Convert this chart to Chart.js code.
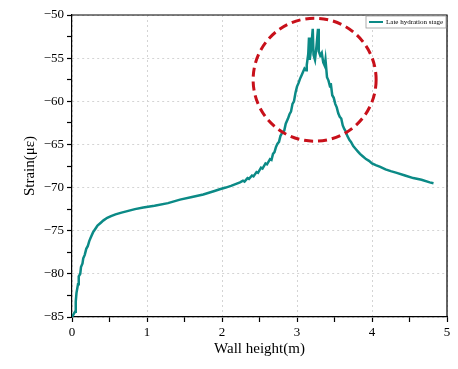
<!DOCTYPE html>
<html>
<head>
<meta charset="utf-8">
<script src="https://cdn.jsdelivr.net/npm/chart.js@4/dist/chart.umd.min.js"></script>
<style>
  html, body { margin: 0; padding: 0; background: #fff; }
  #wrap { width: 458px; height: 369px; }
</style>
</head>
<body>
<div id="wrap"><canvas id="myChart" width="458" height="369"></canvas></div>
<script>
// wall height (m)
const heights = [
  0.00, 0.02, 0.04, 0.05, 0.06, 0.08, 0.09, 0.11, 0.12, 0.14,
  0.15, 0.17, 0.19, 0.21, 0.23, 0.25, 0.28, 0.31, 0.34, 0.38,
  0.42, 0.47, 0.52, 0.58, 0.66, 0.75, 0.84, 0.95, 1.10, 1.28,
  1.44, 1.60, 1.75, 1.90, 1.97, 2.05, 2.12, 2.18, 2.24, 2.28,
  2.30, 2.34, 2.36, 2.40, 2.42, 2.46, 2.48, 2.52, 2.54, 2.58,
  2.60, 2.64, 2.66, 2.68, 2.70, 2.72, 2.74, 2.76, 2.78, 2.80,
  2.83, 2.85, 2.88, 2.90, 2.92, 2.94, 2.96, 2.98, 3.00, 3.02,
  3.04, 3.06, 3.08, 3.10, 3.12, 3.13, 3.15, 3.16, 3.17, 3.19,
  3.21, 3.22, 3.24, 3.26, 3.28, 3.29, 3.31, 3.33, 3.35, 3.37,
  3.38, 3.40, 3.42, 3.44, 3.45, 3.47, 3.49, 3.51, 3.53, 3.55,
  3.57, 3.59, 3.61, 3.63, 3.65, 3.67, 3.70, 3.72, 3.75, 3.78,
  3.81, 3.84, 3.88, 3.92, 3.96, 4.00, 4.05, 4.11, 4.18, 4.25,
  4.33, 4.44, 4.55, 4.66, 4.77, 4.82
];
// strain (microstrain), late hydration stage
const lateStrain = [
  -85.0, -84.7, -84.4, -83.2, -82.2, -81.2, -80.3, -80.0, -79.2, -78.8,
  -78.2, -77.8, -77.1, -76.8, -76.2, -75.8, -75.2, -74.8, -74.4, -74.1,
  -73.8, -73.5, -73.3, -73.1, -72.9, -72.7, -72.5, -72.3, -72.1, -71.8,
  -71.4, -71.1, -70.8, -70.4, -70.2, -70.0, -69.8, -69.6, -69.4, -69.2,
  -69.3, -68.9, -69.0, -68.6, -68.7, -68.2, -68.3, -67.7, -67.8, -67.2,
  -67.3, -66.7, -66.8, -66.1, -65.9, -65.3, -64.9, -64.7, -64.0, -63.7,
  -63.4, -62.6, -62.0, -61.5, -61.2, -60.3, -60.0, -59.0, -58.3, -57.9,
  -57.4, -57.0, -56.6, -56.2, -56.4, -55.8, -54.5, -52.6, -55.2, -53.8,
  -51.6, -54.6, -55.2, -53.6, -51.6, -54.2, -54.7, -54.4, -55.5, -55.9,
  -55.2, -57.2, -57.6, -58.3, -57.9, -59.3, -59.6, -60.3, -60.7, -61.4,
  -61.8, -62.0, -62.8, -63.2, -63.5, -64.0, -64.5, -64.7, -65.2, -65.5,
  -65.8, -66.1, -66.4, -66.7, -66.9, -67.2, -67.4, -67.6, -67.9, -68.1,
  -68.3, -68.6, -68.9, -69.1, -69.4, -69.5
];
const seriesLabel = "Late hydration stage";
const xTitle = "Wall height(m)";
const yTitle = "Strain(\u03bc\u03b5)";
// highlighted peak zone (data units)
const peakCenter = { x: 3.235, y: -57.5 };
const peakRadiusX = 0.82;

const serif = "'Liberation Serif', 'Times New Roman', serif";
const lineColor = "#0b8a86";

const points = heights.map((h, i) => ({ x: h, y: lateStrain[i] }));

// top + right frame lines, dashed circle, boxed legend
const extras = {
  id: "extras",
  afterDatasetsDraw(chart) {
    const { ctx, scales } = chart;
    const cx = scales.x.getPixelForValue(peakCenter.x);
    const cy = scales.y.getPixelForValue(peakCenter.y);
    const r = scales.x.getPixelForValue(peakCenter.x + peakRadiusX) - cx;
    ctx.save();
    ctx.strokeStyle = "#c8101a";
    ctx.lineWidth = 3;
    ctx.setLineDash([9, 5]);
    ctx.beginPath();
    ctx.arc(cx, cy, r, 0, Math.PI * 2);
    ctx.stroke();
    ctx.restore();
  },
  afterDraw(chart) {
    const { ctx, chartArea } = chart;
    ctx.save();
    ctx.strokeStyle = "#000";
    ctx.lineWidth = 1.2;
    ctx.beginPath();
    ctx.moveTo(chartArea.left, chartArea.top);
    ctx.lineTo(chartArea.right, chartArea.top);
    ctx.lineTo(chartArea.right, chartArea.bottom);
    ctx.stroke();

    // legend box
    const bx = chartArea.right - 81, by = chartArea.top + 1, bw = 80, bh = 12;
    ctx.fillStyle = "#fff";
    ctx.fillRect(bx, by, bw, bh);
    ctx.strokeStyle = "#999";
    ctx.lineWidth = 0.8;
    ctx.strokeRect(bx, by, bw, bh);
    ctx.strokeStyle = lineColor;
    ctx.lineWidth = 2;
    ctx.beginPath();
    ctx.moveTo(bx + 3, by + bh / 2);
    ctx.lineTo(bx + 17, by + bh / 2);
    ctx.stroke();
    ctx.fillStyle = "#000";
    ctx.font = "7px " + serif;
    ctx.textBaseline = "middle";
    ctx.fillText(seriesLabel, bx + 20, by + bh / 2 + 0.5);
    ctx.restore();
  },
};

const minus = (v) => String(v).replace("-", "\u2212");

new Chart("myChart", {
  type: "scatter",
  data: {
    datasets: [
      {
        label: seriesLabel,
        data: points,
        showLine: true,
        borderColor: lineColor,
        backgroundColor: lineColor,
        borderWidth: 2.5,
        pointRadius: 0,
        tension: 0,
      },
    ],
  },
  options: {
    responsive: false,
    animation: false,
    layout: { padding: { left: 0, top: 15, right: 11, bottom: 0 } },
    plugins: { legend: { display: false }, tooltip: { enabled: false } },
    scales: {
      x: {
        type: "linear",
        min: 0,
        max: 5,
        afterFit: (s) => { s.height = 52; },
        ticks: {
          stepSize: 0.5,
          autoSkip: false,
          maxRotation: 0,
          padding: 3,
          color: "#000",
          font: { family: serif, size: 13 },
          callback: (v) => (Number.isInteger(v) ? String(v) : ""),
        },
        grid: {
          color: (c) => (c.tick && Number.isInteger(c.tick.value) ? "#d4d4d4" : "transparent"),
          lineWidth: 1,
          tickColor: "#000",
          tickLength: 5,
          tickWidth: 1.2,
          tickBorderDash: [],
        },
        border: { display: true, color: "#000", width: 1.2, dash: [2, 3] },
        title: {
          display: true,
          text: xTitle,
          color: "#000",
          font: { family: serif, size: 15 },
          padding: { top: 4, bottom: 11 },
        },
      },
      y: {
        min: -85,
        max: -50,
        afterFit: (s) => { s.width = 72; },
        ticks: {
          stepSize: 2.5,
          autoSkip: false,
          padding: 3,
          color: "#000",
          font: { family: serif, size: 13 },
          callback: (v) => (v % 5 === 0 ? minus(v) : ""),
        },
        grid: {
          color: (c) => (c.tick && c.tick.value % 5 === 0 ? "#d4d4d4" : "transparent"),
          lineWidth: 1,
          tickColor: "#000",
          tickLength: 5,
          tickWidth: 1.2,
          tickBorderDash: [],
        },
        border: { display: true, color: "#000", width: 1.2, dash: [2, 3] },
        title: {
          display: true,
          text: yTitle,
          color: "#000",
          font: { family: serif, size: 15 },
          padding: { top: 21, bottom: 0 },
        },
      },
    },
  },
  plugins: [extras],
});
</script>
</body>
</html>
